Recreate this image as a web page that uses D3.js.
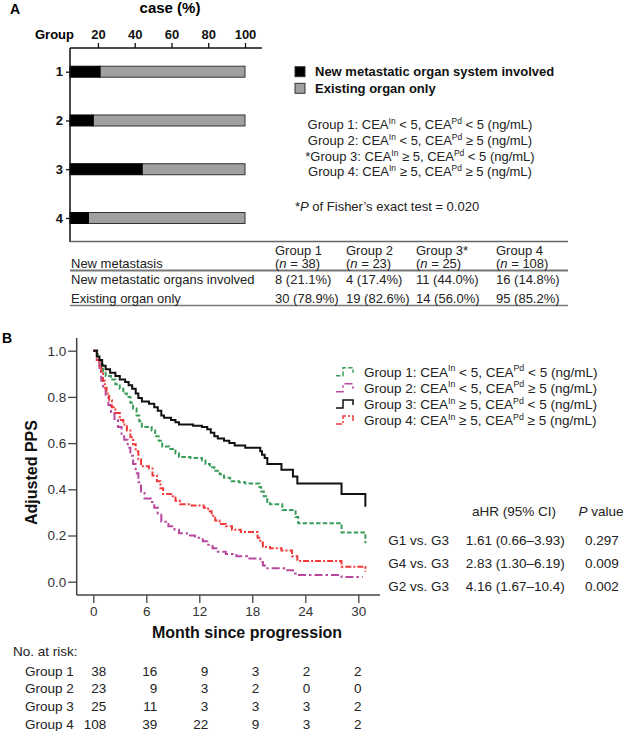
<!DOCTYPE html>
<html><head><meta charset="utf-8">
<script src="https://cdn.jsdelivr.net/npm/d3@7"></script>
<style>
html,body{margin:0;padding:0;background:#fff;}
svg{display:block;font-family:"Liberation Sans",Arial,sans-serif;}
</style></head><body>
<svg id="chart" width="624" height="731"></svg>
<script>
// ---------- Panel A data ----------
const barGroups = ["1", "2", "3", "4"];
const newOrganPct = [21.1, 17.4, 44.0, 14.8];
const barTicks = [20, 40, 60, 80, 100];
const legendA = ["New metastatic organ system involved", "Existing organ only"];
const defLabels = ["Group 1", "Group 2", "*Group 3", "Group 4"];
const inOps = ["<", "<", "≥", "≥"];
const pdOps = ["<", "≥", "<", "≥"];
const fisherP = "0.020";
const tableGroups = ["Group 1", "Group 2", "Group 3*", "Group 4"];
const tableN = [38, 23, 25, 108];
const newCounts = [8, 4, 11, 16];
const existCounts = [30, 19, 14, 95];
const existPct = [78.9, 82.6, 56.0, 85.2];

// ---------- Panel B data ----------
const g1Times = [0,0.5,0.8,1.1,1.4,2.0,2.5,3.0,3.4,3.8,4.2,4.5,4.9,5.2,5.5,6.6,7.0,7.4,7.8,8.6,9.3,9.7,11.0,12.3,12.7,13.2,13.7,14.3,14.8,15.5,16.5,17.2,18.8,19.0,19.3,19.7,20.0,21.4,22.9,23.2,28.1,30.8];
const g1Surv  = [1,0.96,0.94,0.91,0.89,0.875,0.855,0.835,0.815,0.80,0.775,0.75,0.72,0.695,0.67,0.655,0.63,0.61,0.585,0.575,0.555,0.54,0.535,0.525,0.51,0.495,0.48,0.465,0.45,0.435,0.43,0.425,0.41,0.39,0.37,0.345,0.335,0.31,0.28,0.253,0.213,0.166];
const g2Times = [0,0.4,0.7,0.9,1.1,1.4,1.7,2.0,2.4,2.8,3.2,3.5,3.9,4.2,4.5,4.8,5.1,5.4,5.8,6.5,6.9,7.3,7.7,8.5,9.2,9.7,10.6,11.5,12.4,12.9,13.5,14.1,15.0,16.2,17.4,18.9,19.2,19.7,21.6,22.6,23.1,28.1,30.5];
const g2Surv  = [1,0.95,0.91,0.87,0.84,0.80,0.765,0.735,0.70,0.67,0.64,0.615,0.58,0.545,0.51,0.47,0.43,0.39,0.36,0.345,0.32,0.295,0.26,0.24,0.225,0.21,0.20,0.19,0.175,0.16,0.145,0.13,0.12,0.11,0.10,0.085,0.07,0.058,0.05,0.036,0.029,0.02,0.02];
const g3Times = [0,0.4,0.7,1.0,1.4,1.9,2.5,3.0,3.6,4.0,4.4,4.8,5.1,5.5,6.3,6.9,7.3,7.7,8.0,8.8,9.3,9.7,11.3,12.3,12.9,13.3,13.7,14.1,14.8,15.4,16.0,17.2,18.9,19.1,19.4,19.7,21.3,22.6,23.1,28.1,30.8];
const g3Surv  = [1,0.975,0.96,0.935,0.92,0.905,0.89,0.875,0.865,0.85,0.835,0.815,0.795,0.78,0.77,0.755,0.74,0.72,0.71,0.70,0.69,0.68,0.675,0.67,0.66,0.645,0.63,0.62,0.61,0.60,0.59,0.58,0.565,0.55,0.535,0.51,0.485,0.455,0.425,0.38,0.325];
const g4Times = [0,0.4,0.7,0.9,1.1,1.3,1.5,1.8,2.1,2.5,3.0,3.4,3.8,4.2,4.5,4.8,5.1,5.4,6.3,6.7,7.2,7.6,7.9,8.8,9.3,9.8,11.0,12.5,13.0,13.4,13.8,14.3,15.0,15.7,16.7,18.6,18.9,19.2,20.0,21.3,22.5,23.1,28.1,30.8];
const g4Surv  = [1,0.96,0.93,0.90,0.87,0.84,0.815,0.785,0.755,0.73,0.70,0.68,0.655,0.625,0.595,0.565,0.53,0.50,0.49,0.46,0.435,0.405,0.38,0.37,0.35,0.335,0.33,0.32,0.305,0.285,0.265,0.25,0.24,0.225,0.215,0.19,0.17,0.15,0.145,0.135,0.11,0.09,0.065,0.043];
const legendB = ["Group 1", "Group 2", "Group 3", "Group 4"];
const yTicksB = [0, 0.2, 0.4, 0.6, 0.8, 1.0];
const xTicksB = [0, 6, 12, 18, 24, 30];
const riskTimes = [0, 6, 12, 18, 24, 30];
const riskG1 = [38, 16, 9, 3, 2, 2];
const riskG2 = [23, 9, 3, 2, 0, 0];
const riskG3 = [25, 11, 3, 3, 3, 2];
const riskG4 = [108, 39, 22, 9, 3, 2];
const hrLabels = ["G1 vs. G3", "G4 vs. G3", "G2 vs. G3"];
const hrValues = ["1.61 (0.66–3.93)", "2.83 (1.30–6.19)", "4.16 (1.67–10.4)"];
const hrP = ["0.297", "0.009", "0.002"];

// ---------- helpers ----------
const svg = d3.select("#chart");
const TXT = "#222";
function defParts(label, inOp, pdOp) {
  return [[label + ": CEA", 0], ["In", 1], [" " + inOp + " 5, CEA", 0], ["Pd", 1], [" " + pdOp + " 5 (ng/mL)", 0]];
}
function richText(parent, x, y, parts, size, anchor) {
  const t = parent.append("text").attr("x", x).attr("y", y)
    .attr("font-size", size).attr("fill", TXT).attr("text-anchor", anchor || "start");
  let up = false;
  parts.forEach(([s, sup]) => {
    const ts = t.append("tspan").text(s);
    if (sup && !up) { ts.attr("dy", -size * 0.38).attr("font-size", size * 0.65); up = true; }
    else if (sup) { ts.attr("font-size", size * 0.65); }
    else if (up) { ts.attr("dy", size * 0.38); up = false; }
  });
  return t;
}

// ================= PANEL A =================
const gA = svg.append("g");
gA.append("text").attr("x", 10).attr("y", 14).attr("font-size", 14).attr("font-weight", "bold").text("A");

const xA = d3.scaleLinear().domain([0, 100]).range([61.2, 245]);
const yA = d3.scalePoint().domain(barGroups).range([71.7, 218]);
const axX = 70, axTop = 48, axBottom = 242, barH = 11;

gA.append("text").attr("x", 170).attr("y", 13).attr("text-anchor", "middle")
  .attr("font-size", 15).attr("font-weight", "bold").text("case (%)");

barGroups.forEach((g, i) => {
  const y0 = yA(g) - barH / 2;
  gA.append("rect").attr("x", xA(newOrganPct[i])).attr("y", y0)
    .attr("width", xA(100) - xA(newOrganPct[i])).attr("height", barH)
    .attr("fill", "#a0a0a0").attr("stroke", "#333").attr("stroke-width", 1);
  gA.append("rect").attr("x", axX).attr("y", y0)
    .attr("width", xA(newOrganPct[i]) - axX).attr("height", barH)
    .attr("fill", "#000").attr("stroke", "#000").attr("stroke-width", 1);
});

const topAx = gA.append("g").attr("transform", `translate(0,${axTop})`)
  .call(d3.axisTop(xA).tickValues(barTicks).tickSize(5).tickPadding(4));
topAx.select(".domain").remove();
topAx.selectAll("text").attr("font-size", 13).attr("font-weight", "bold").attr("fill", "#111").attr("font-family", null);
topAx.selectAll("line").attr("stroke", "#111").attr("stroke-width", 1.3);
gA.append("line").attr("x1", axX).attr("x2", 262).attr("y1", axTop).attr("y2", axTop)
  .attr("stroke", "#111").attr("stroke-width", 1.5);
gA.append("text").attr("x", 35).attr("y", 39).attr("font-size", 13).attr("font-weight", "bold").text("Group");

const leftAx = gA.append("g").attr("transform", `translate(${axX},0)`)
  .call(d3.axisLeft(yA).tickSize(4).tickPadding(3));
leftAx.select(".domain").remove();
leftAx.selectAll("text").attr("font-size", 13).attr("font-weight", "bold").attr("fill", "#111").attr("font-family", null);
leftAx.selectAll("line").attr("stroke", "#111").attr("stroke-width", 1.3);
gA.append("line").attr("x1", axX).attr("x2", axX).attr("y1", axTop).attr("y2", axBottom)
  .attr("stroke", "#111").attr("stroke-width", 1.5);

// legend A
const legFill = ["#000", "#a0a0a0"];
const legY = [71.7, 88.3];
legendA.forEach((l, i) => {
  gA.append("rect").attr("x", 295).attr("y", legY[i] - 5).attr("width", 10).attr("height", 10)
    .attr("fill", legFill[i]).attr("stroke", "#333").attr("stroke-width", 1);
  gA.append("text").attr("x", 315).attr("y", legY[i] + 4.6).attr("font-size", 13)
    .attr("font-weight", "bold").attr("fill", "#111").text(l);
});
defLabels.forEach((l, i) => {
  richText(gA, 420, 128.7 + i * 15.9, defParts(l, inOps[i], pdOps[i]), 13, "middle");
});
const fis = gA.append("text").attr("x", 295).attr("y", 210.5).attr("font-size", 13).attr("fill", TXT);
fis.append("tspan").text("*");
fis.append("tspan").attr("font-style", "italic").text("P");
fis.append("tspan").text(" of Fisher’s exact test = " + fisherP);

// table
const colX = [275, 346, 416, 496];
const tblL = 70, tblR = 568;
const pf = d3.format(".1f");
gA.append("line").attr("x1", tblL).attr("x2", tblR).attr("y1", 241.5).attr("y2", 241.5).attr("stroke", "#666").attr("stroke-width", 1.5);
gA.append("line").attr("x1", tblL).attr("x2", tblR).attr("y1", 270.5).attr("y2", 270.5).attr("stroke", "#777").attr("stroke-width", 2);
gA.append("line").attr("x1", tblL).attr("x2", tblR).attr("y1", 305.5).attr("y2", 305.5).attr("stroke", "#777").attr("stroke-width", 1.5);
gA.append("text").attr("x", 71).attr("y", 268).attr("font-size", 13).attr("fill", TXT).text("New metastasis");
gA.append("text").attr("x", 71).attr("y", 283.5).attr("font-size", 13).attr("fill", TXT).text("New metastatic organs involved");
gA.append("text").attr("x", 71).attr("y", 302.5).attr("font-size", 13).attr("fill", TXT).text("Existing organ only");
tableGroups.forEach((g, i) => {
  gA.append("text").attr("x", colX[i]).attr("y", 254.5).attr("font-size", 13).attr("fill", TXT).text(g);
  const nt = gA.append("text").attr("x", colX[i]).attr("y", 268).attr("font-size", 13).attr("fill", TXT);
  nt.append("tspan").text("(");
  nt.append("tspan").attr("font-style", "italic").text("n");
  nt.append("tspan").text(" = " + tableN[i] + ")");
  gA.append("text").attr("x", colX[i]).attr("y", 283.5).attr("font-size", 13).attr("fill", TXT)
    .text(`${newCounts[i]} (${pf(newOrganPct[i])}%)`);
  gA.append("text").attr("x", colX[i]).attr("y", 302.5).attr("font-size", 13).attr("fill", TXT)
    .text(`${existCounts[i]} (${pf(existPct[i])}%)`);
});

// ================= PANEL B =================
const gB = svg.append("g");
gB.append("text").attr("x", 2).attr("y", 343).attr("font-size", 14).attr("font-weight", "bold").text("B");

const xB = d3.scaleLinear().domain([0, 30]).range([93.3, 358.3]);
const yB = d3.scaleLinear().domain([0, 1]).range([581.7, 350.7]);
const bAxX = 76.7, bAxY = 595;
const AX = "#444";

const yAxB = gB.append("g").attr("transform", `translate(${bAxX},0)`)
  .call(d3.axisLeft(yB).tickValues(yTicksB).tickFormat(d3.format(".1f")).tickSize(8.5).tickPadding(2));
yAxB.select(".domain").remove();
yAxB.selectAll("text").attr("font-size", 13.5).attr("fill", "#333").attr("font-family", null);
yAxB.selectAll("line").attr("stroke", AX).attr("stroke-width", 1.3);
gB.append("line").attr("x1", bAxX).attr("x2", bAxX).attr("y1", 338).attr("y2", bAxY).attr("stroke", AX).attr("stroke-width", 1.5);

const xAxB = gB.append("g").attr("transform", `translate(0,${bAxY})`)
  .call(d3.axisBottom(xB).tickValues(xTicksB).tickSize(8).tickPadding(3));
xAxB.select(".domain").remove();
xAxB.selectAll("text").attr("font-size", 13.5).attr("fill", "#333").attr("font-family", null);
xAxB.selectAll("line").attr("stroke", AX).attr("stroke-width", 1.3);
gB.append("line").attr("x1", bAxX).attr("x2", 380).attr("y1", bAxY).attr("y2", bAxY).attr("stroke", AX).attr("stroke-width", 1.5);

gB.append("text").attr("transform", "translate(37,472.5) rotate(-90)").attr("text-anchor", "middle")
  .attr("font-size", 16).attr("font-weight", "bold").attr("fill", "#111").text("Adjusted PPS");
gB.append("text").attr("x", 247).attr("y", 637.5).attr("text-anchor", "middle")
  .attr("font-size", 16).attr("font-weight", "bold").attr("fill", "#111").text("Month since progression");

// curves
const series = [
  { t: g1Times, s: g1Surv, color: "#3a9d5a", dash: "4.5,2.2", w: 2 },
  { t: g2Times, s: g2Surv, color: "#b8489e", dash: "8,3,2.5,3", w: 2 },
  { t: g4Times, s: g4Surv, color: "#ee3a3a", dash: "6,2,2,2", w: 2 },
  { t: g3Times, s: g3Surv, color: "#111", dash: null, w: 2 }
];
const line = d3.line().x(d => xB(d[0])).y(d => yB(d[1])).curve(d3.curveStepAfter);
series.forEach(sr => {
  const pts = sr.t.map((t, i) => [t, sr.s[i]]);
  gB.append("path").attr("d", line(pts)).attr("fill", "none").attr("stroke", sr.color)
    .attr("stroke-width", sr.w).attr("stroke-dasharray", sr.dash);
});

// legend B
const legendOrder = [series[0], series[1], series[3], series[2]];
legendB.forEach((l, i) => {
  const yc = 371.7 + i * 16.1;
  const sr = legendOrder[i];
  gB.append("path").attr("d", `M336,${yc + 4}H343V${yc - 4}H353V${yc + 1}`)
    .attr("fill", "none").attr("stroke", sr.color).attr("stroke-width", 1.5).attr("stroke-dasharray", sr.dash);
  richText(gB, 364, yc + 4.8, defParts(l, inOps[i], pdOps[i]), 13.5, "start");
});

// HR table
gB.append("text").attr("x", 514).attr("y", 515.8).attr("text-anchor", "middle").attr("font-size", 13.5).attr("fill", TXT).text("aHR (95% CI)");
const pv = gB.append("text").attr("x", 601).attr("y", 515.8).attr("text-anchor", "middle").attr("font-size", 13.5).attr("fill", TXT);
pv.append("tspan").attr("font-style", "italic").text("P");
pv.append("tspan").text(" value");
hrLabels.forEach((l, i) => {
  const yy = 544.8 + i * 23;
  gB.append("text").attr("x", 388.3).attr("y", yy).attr("font-size", 13.5).attr("fill", TXT).text(l);
  gB.append("text").attr("x", 465.7).attr("y", yy).attr("font-size", 13.5).attr("fill", TXT).text(hrValues[i]);
  gB.append("text").attr("x", 602).attr("y", yy).attr("text-anchor", "middle").attr("font-size", 13.5).attr("fill", TXT).text(hrP[i]);
});

// at risk
gB.append("text").attr("x", 13).attr("y", 656).attr("font-size", 13.5).attr("fill", TXT).text("No. at risk:");
const riskRows = [riskG1, riskG2, riskG3, riskG4];
riskRows.forEach((row, r) => {
  const yy = 675.7 + r * 17.7;
  gB.append("text").attr("x", 25).attr("y", yy).attr("font-size", 13.5).attr("fill", TXT).text(legendB[r]);
  row.forEach((v, c) => {
    gB.append("text").attr("x", xB(riskTimes[c]) + 13 - riskTimes[c] * 0.33).attr("y", yy)
      .attr("text-anchor", "end").attr("font-size", 13.5).attr("fill", TXT).text(v);
  });
});
</script>
</body></html>
